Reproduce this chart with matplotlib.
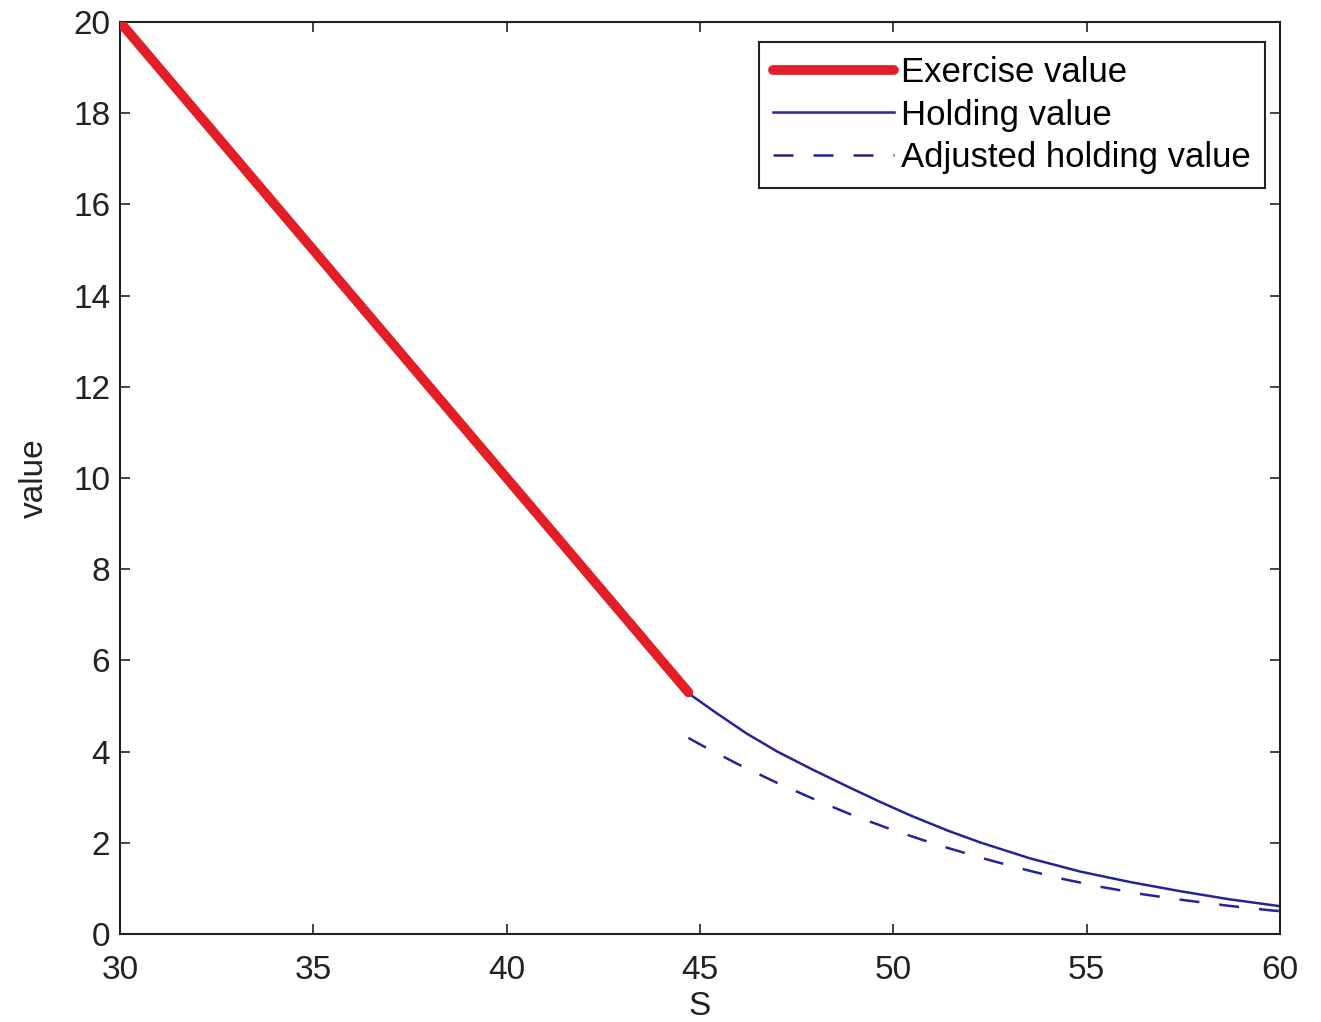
import matplotlib
matplotlib.use('Agg')
import matplotlib.pyplot as plt
import numpy as np

# exercise value of the put (K = 50) up to the exercise boundary
exercise_S = [30.0, 44.7]
exercise_v = [20.0, 5.3]

# holding (continuation) value beyond the boundary
holding_S = [44.7, 45.4, 46.2, 47.0, 47.9, 48.8, 49.65, 50.5, 51.4, 52.24,
             53.53, 54.83, 56.12, 57.41, 58.7, 60.0]
holding_v = [5.28, 4.86, 4.40, 4.00, 3.61, 3.24, 2.90, 2.58, 2.27, 2.01,
             1.66, 1.37, 1.14, 0.94, 0.76, 0.61]

# adjusted holding value
adjusted_S = [44.7, 45.04, 45.99, 46.98, 47.97, 48.96, 49.99, 51.12, 52.32,
              53.23, 54.31, 55.39, 56.46, 57.54, 58.66, 59.74, 60.0]
adjusted_v = [4.30, 4.14, 3.72, 3.32, 2.95, 2.60, 2.28, 1.96, 1.66,
              1.45, 1.22, 1.03, 0.87, 0.74, 0.62, 0.52, 0.50]

plt.rcParams['font.family'] = ['Liberation Sans', 'DejaVu Sans']
plt.rcParams['font.size'] = 24

W, H = 1321, 1022
fig = plt.figure(figsize=(W / 100, H / 100), dpi=100)
ax = fig.add_axes([120 / W, 1 - 934 / H, (1280 - 120) / W, (934 - 22) / H])

blue = '#24249a'
ax.plot(exercise_S, exercise_v, color='#e41e26', lw=7, solid_capstyle='round',
        label='Exercise value', zorder=3)
ax.plot(holding_S, holding_v, color=blue, lw=1.8, label='Holding value')
ax.plot(adjusted_S, adjusted_v, color=blue, lw=1.8, dashes=(8, 8),
        label='Adjusted holding value')

ax.set_xlim(30, 60)
ax.set_ylim(0, 20)
ax.set_xticks(np.arange(30, 61, 5))
ax.set_yticks(np.arange(0, 21, 2))
ax.tick_params(direction='in', length=7, width=1.2, top=True, right=True,
               colors='#222222', labelcolor='#222222')
ax.tick_params(axis='x', pad=15)
ax.tick_params(axis='y', pad=7)
for sp in ax.spines.values():
    sp.set_linewidth(1.5)
    sp.set_color('#222222')

ax.set_xlabel('S', color='#222222', labelpad=4)
ax.set_ylabel('value', color='#222222', labelpad=17)

leg = ax.legend(loc='upper right', bbox_to_anchor=(1265 / W, 1 - 42 / H),
                bbox_transform=fig.transFigure, borderaxespad=0,
                fontsize=25, handlelength=3.5, handletextpad=0.2,
                borderpad=0.4, labelspacing=0.28,
                fancybox=False, framealpha=1, edgecolor='#222222')
leg.get_frame().set_linewidth(1.5)

fig.savefig('out.png', dpi=100)
